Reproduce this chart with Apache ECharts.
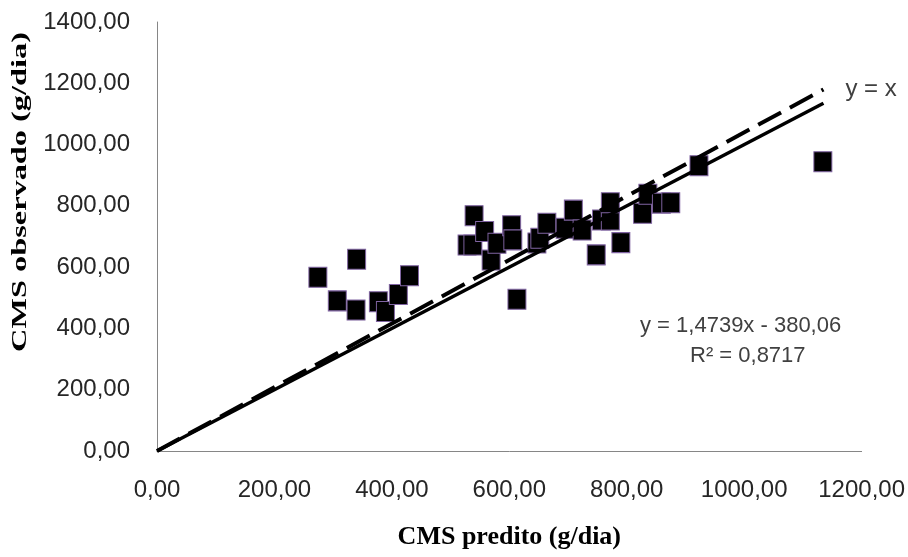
<!DOCTYPE html>
<html>
<head>
<meta charset="utf-8">
<script src="https://cdn.jsdelivr.net/npm/echarts@6/dist/echarts.min.js"></script>
<style>
  html, body { margin: 0; padding: 0; background: #fff; }
  #chart { width: 908px; height: 557px; }
</style>
</head>
<body>
<div id="chart"></div>
<script>
// CMS predito x CMS observado (g/dia)
const predito = [274, 340, 307, 339, 377, 389, 411, 430,
  528, 538, 540, 558, 569, 579, 604, 606, 613,
  647, 652, 664, 695, 709, 724, 748, 757, 772, 772, 790,
  827, 836, 859, 875, 923, 1134];
const observado = [567, 626, 490, 460, 487, 455, 511, 572,
  672, 672, 768, 716, 623, 678, 735, 689, 495,
  679, 694, 743, 727, 786, 721, 640, 754, 754, 810, 680,
  776, 838, 809, 810, 931, 944];

// linhas de referencia
const linhaCheia = [[0, 0], [1135, 1135]];
const linhaTracejada = [[0, 0], [1135, 1180]];

const eqTexto = 'y = 1,4739x - 380,06';
const r2Texto = 'R² = 0,8717';
const tituloY = 'CMS observado (g/dia)';

const fmt = v => v.toFixed(2).replace('.', ',');
const labelFont = '"Liberation Sans", sans-serif';
const titleFont = '"Liberation Serif", serif';

const chart = echarts.init(document.getElementById('chart'));
chart.setOption({
  animation: false,
  grid: { left: 157, right: 44, top: 22, bottom: 106 },
  xAxis: {
    type: 'value',
    min: 0, max: 1200, interval: 200,
    name: 'CMS predito (g/dia)',
    nameLocation: 'middle',
    nameGap: 73,
    nameTextStyle: { fontFamily: titleFont, fontWeight: 'bold', fontSize: 26, color: '#000' },
    axisLine: { show: true, lineStyle: { color: '#868686', width: 1 } },
    axisTick: { show: false },
    splitLine: { show: false },
    axisLabel: { formatter: fmt, margin: 27, fontSize: 24, fontFamily: labelFont, color: '#262626' }
  },
  yAxis: {
    type: 'value',
    min: 0, max: 1400, interval: 200,
    axisLine: { show: true, lineStyle: { color: '#868686', width: 1 } },
    axisTick: { show: false },
    splitLine: { show: false },
    axisLabel: { formatter: fmt, margin: 27, fontSize: 24, fontFamily: labelFont, color: '#262626' }
  },
  series: [
    {
      type: 'scatter',
      symbol: 'rect',
      symbolSize: [18, 20],
      itemStyle: { color: '#000', borderColor: '#8064A2', borderWidth: 1, opacity: 1 },
      data: predito.map((x, i) => [x, observado[i]]),
      z: 2
    },
    {
      type: 'line',
      data: linhaCheia,
      showSymbol: false,
      lineStyle: { color: '#000', width: 3.5 },
      z: 3
    },
    {
      type: 'line',
      data: linhaTracejada,
      showSymbol: false,
      lineStyle: { color: '#000', width: 4, type: [26, 10] },
      endLabel: {
        show: true,
        formatter: 'y = x',
        distance: 22,
        fontSize: 24,
        fontFamily: labelFont,
        color: '#404040'
      },
      z: 3
    }
  ],
  graphic: [
    {
      type: 'text', x: 20, y: 192, rotation: Math.PI / 2, scaleX: 1.47,
      style: {
        text: tituloY, fontSize: 22, fontWeight: 'bold', fontFamily: titleFont,
        fill: '#000', align: 'center', verticalAlign: 'middle'
      }
    },
    {
      type: 'text', left: 640, top: 315,
      style: { text: eqTexto, fontSize: 22, fontFamily: labelFont, fill: '#404040' }
    },
    {
      type: 'text', left: 690, top: 345,
      style: { text: r2Texto, fontSize: 22, fontFamily: labelFont, fill: '#404040' }
    }
  ]
});
</script>
</body>
</html>
